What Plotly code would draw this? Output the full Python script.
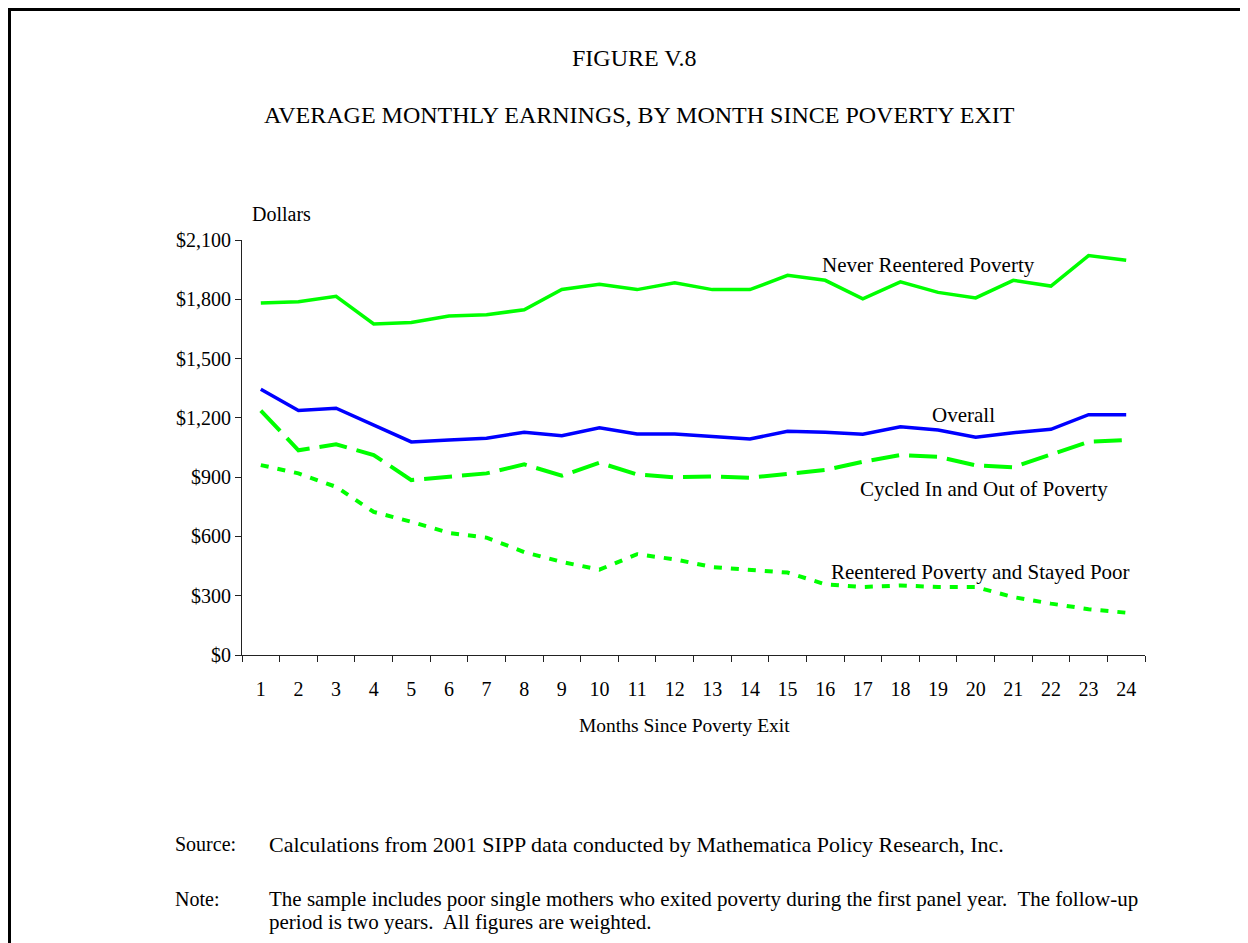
import plotly.graph_objects as go

OFF = 8                     # the page body margin shifts the figure by 8px
W, H = 1248 - OFF, 943 - OFF
L, R, T, B = 242, 1145, 240, 655   # plot area in page pixels

months = list(range(1, 25))
month_labels = [str(m) for m in months]

never_reentered = [1781, 1788, 1815, 1675, 1683, 1715, 1722, 1747, 1850, 1876, 1849, 1883,
                   1849, 1849, 1921, 1896, 1802, 1888, 1835, 1807, 1896, 1867, 2021, 1997]
overall = [1345, 1237, 1249, 1164, 1078, 1088, 1097, 1127, 1110, 1150, 1118, 1118,
           1105, 1093, 1132, 1127, 1117, 1155, 1139, 1102, 1125, 1142, 1216, 1216]
cycled = [1237, 1036, 1066, 1012, 885, 902, 919, 965, 907, 973, 914, 899,
          904, 897, 915, 936, 978, 1012, 1003, 960, 950, 1017, 1079, 1088]
stayed_poor = [961, 919, 851, 724, 674, 618, 594, 521, 471, 432, 510, 484,
               445, 429, 417, 358, 344, 352, 344, 344, 293, 260, 232, 214]

y_ticks = [0, 300, 600, 900, 1200, 1500, 1800, 2100]
y_tick_text = ["$0", "$300", "$600", "$900", "$1,200", "$1,500", "$1,800", "$2,100"]

FONT = "Liberation Serif, Times New Roman, serif"
GREEN = "#00ff00"
BLUE = "#0000ff"


def px(x):
    return (x - L) / (R - L)


def py(y):
    return (B - y) / (B - T)


fig = go.Figure()

fig.add_trace(go.Scatter(x=months, y=never_reentered, mode="lines",
                         line=dict(color=GREEN, width=3.5)))
fig.add_trace(go.Scatter(x=months, y=overall, mode="lines",
                         line=dict(color=BLUE, width=3.5)))
fig.add_trace(go.Scatter(x=months, y=cycled, mode="lines",
                         line=dict(color=GREEN, width=4, dash="28px,10px")))
fig.add_trace(go.Scatter(x=months, y=stayed_poor, mode="lines",
                         line=dict(color=GREEN, width=4, dash="8px,9px")))

annotations = [
    ("FIGURE V.8", 634, 58, "center", 24),
    ("AVERAGE MONTHLY EARNINGS, BY MONTH SINCE POVERTY EXIT", 639, 115, "center", 24),
    ("Dollars", 250, 214, "left", 20),
    ("Never Reentered Poverty", 928, 265, "center", 21),
    ("Overall", 963, 415, "center", 21),
    ("Cycled In and Out of Poverty", 984, 489, "center", 21),
    ("Reentered Poverty and Stayed Poor", 980, 572, "center", 21),
    ("Months Since Poverty Exit", 684, 725, "center", 19.5),
    ("Source:", 173, 844, "left", 20),
    ("Calculations from 2001 SIPP data conducted by Mathematica Policy Research, Inc.", 267, 844, "left", 22),
    ("Note:", 173, 899, "left", 20),
    ("The sample includes poor single mothers who exited poverty during the first panel year.  The follow-up",
     267, 899, "left", 21),
    ("period is two years.  All figures are weighted.", 267, 922, "left", 21),
]
for text, x, y, anchor, size in annotations:
    fig.add_annotation(text=text.replace("  ", "&nbsp; "), x=px(x), y=py(y), xref="paper", yref="paper",
                       xanchor=anchor, yanchor="middle", showarrow=False,
                       font=dict(family=FONT, size=size, color="black"))

# page border (top and left edges)
fig.add_shape(type="line", xref="paper", yref="paper", x0=px(9.5), x1=px(W + 20), y0=py(9.5), y1=py(9.5),
              line=dict(color="black", width=3))
fig.add_shape(type="line", xref="paper", yref="paper", x0=px(9.5), x1=px(9.5), y0=py(8), y1=py(H + 20),
              line=dict(color="black", width=3))

fig.update_layout(
    width=W, height=H,
    margin=dict(l=L - OFF, r=W - (R - OFF), t=T - OFF, b=H - (B - OFF)),
    paper_bgcolor="white", plot_bgcolor="white",
    showlegend=False,
    font=dict(family=FONT, size=20, color="black"),
)
fig.update_xaxes(
    range=[0.5, 24.5], tickvals=months, ticktext=month_labels, ticks="",
    showline=True, linecolor="#222", linewidth=1, showgrid=False, zeroline=False,
    ticklabelstandoff=16,
    minor=dict(tickvals=[m + 0.5 for m in range(0, 25)], ticks="outside", ticklen=6,
               tickcolor="#222", showgrid=False),
    tickfont=dict(family=FONT, size=20),
)
fig.update_yaxes(
    range=[0, 2100], tickvals=y_ticks, ticktext=y_tick_text,
    ticks="outside", ticklen=6, tickcolor="#222",
    showline=True, linecolor="#222", linewidth=1, showgrid=False, zeroline=False,
    ticklabelstandoff=0,
    tickfont=dict(family=FONT, size=20),
)

fig.write_html("out.html")
